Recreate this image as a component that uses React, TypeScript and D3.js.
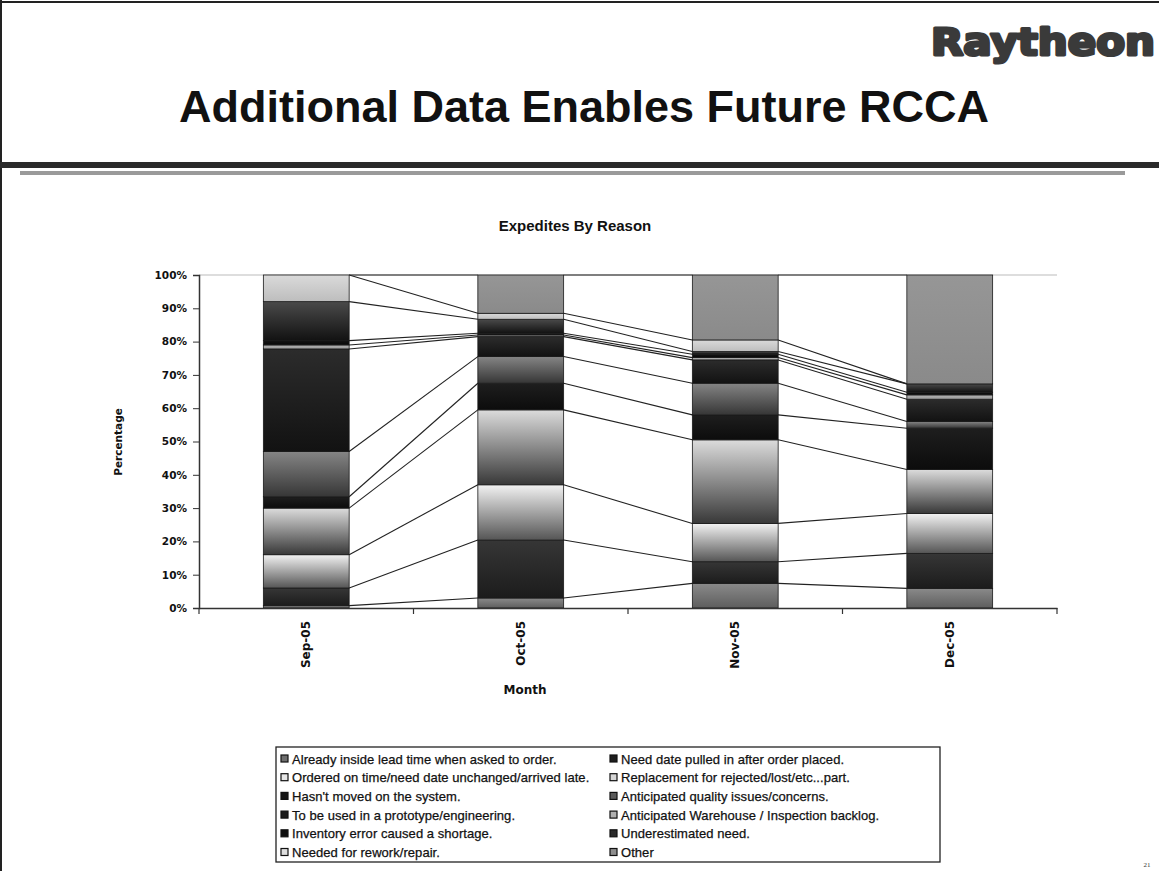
import React, { useEffect, useRef } from "react";
import * as d3 from "d3";

// Months on the category axis
const months = ["Sep-05", "Oct-05", "Nov-05", "Dec-05"];

// Expedite reasons, stacked bottom to top
const reasons = [
  "Already inside lead time when asked to order.",
  "Need date pulled in after order placed.",
  "Ordered on time/need date unchanged/arrived late.",
  "Replacement for rejected/lost/etc...part.",
  "Hasn't moved on the system.",
  "Anticipated quality issues/concerns.",
  "To be used in a prototype/engineering.",
  "Anticipated Warehouse / Inspection backlog.",
  "Inventory error caused a shortage.",
  "Underestimated need.",
  "Needed for rework/repair.",
  "Other",
];

// Share of expedites (%) for each reason, per month
const sep05 = [0.7, 5.3, 10, 14, 3.4, 13.6, 30.8, 1.2, 1.3, 11.7, 8, 0];
const oct05 = [3, 17.4, 16.6, 22.5, 8, 8, 6, 0.5, 0.5, 4.2, 1.8, 11.5];
const nov05 = [7.4, 6.5, 11.5, 25.1, 7.5, 9.5, 7, 0.7, 1, 0.8, 3.5, 19.5];
const dec05 = [5.9, 10.5, 12, 13.2, 12.4, 2, 6.7, 1.3, 0.8, 2.5, 0, 32.7];

const yTickValues = [0, 10, 20, 30, 40, 50, 60, 70, 80, 90, 100];

// Grey gradient fills (top colour, bottom colour) per reason
const fills: [string, string][] = [
  ["#8a8a8a", "#5e5e5e"],
  ["#363636", "#1c1c1c"],
  ["#f2f2f2", "#555555"],
  ["#dcdcdc", "#383838"],
  ["#1e1e1e", "#0c0c0c"],
  ["#858585", "#363636"],
  ["#2c2c2c", "#121212"],
  ["#b4b4b4", "#9a9a9a"],
  ["#151515", "#070707"],
  ["#4a4a4a", "#121212"],
  ["#dadada", "#bdbdbd"],
  ["#969696", "#8a8a8a"],
];

// Swatch colours shown in the legend
const swatches = [
  "#6e6e6e", "#1e1e1e", "#e6e6e6", "#d6d6d6", "#151515", "#5a5a5a",
  "#1c1c1c", "#b0b0b0", "#0e0e0e", "#2a2a2a", "#dedede", "#8e8e8e",
];

const W = 1159;
const H = 871;
const plot = { left: 199, right: 1057, top: 275, bottom: 608 };
const SANS = "'Liberation Sans', Arial, sans-serif";
const WIDE = "'DejaVu Sans', sans-serif";

export default function App() {
  const ref = useRef<SVGSVGElement | null>(null);

  useEffect(() => {
    const svg = d3.select(ref.current);
    svg.selectAll("*").remove();

    const monthValues = [sep05, oct05, nov05, dec05];
    const table = months.map((m, i) => {
      const row: Record<string, number | string> = { month: m };
      reasons.forEach((r, k) => (row[r] = monthValues[i][k]));
      return row;
    });
    const stacked = d3.stack<any>().keys(reasons)(table as any);

    const x = d3
      .scaleBand<string>()
      .domain(months)
      .range([plot.left, plot.right])
      .paddingInner(0.6)
      .paddingOuter(0.3);
    const y = d3.scaleLinear().domain([0, 100]).range([plot.bottom, plot.top]);
    const bw = x.bandwidth();

    // gradients
    const defs = svg.append("defs");
    fills.forEach((f, k) => {
      const g = defs
        .append("linearGradient")
        .attr("id", `grad${k}`)
        .attr("x1", 0)
        .attr("y1", 0)
        .attr("x2", 0)
        .attr("y2", 1);
      g.append("stop").attr("offset", "0%").attr("stop-color", f[0]);
      g.append("stop").attr("offset", "100%").attr("stop-color", f[1]);
    });

    // slide frame
    svg.append("line").attr("x1", 0).attr("x2", W).attr("y1", 2).attr("y2", 2)
      .attr("stroke", "#222").attr("stroke-width", 2);
    svg.append("line").attr("x1", 1).attr("x2", 1).attr("y1", 0).attr("y2", H)
      .attr("stroke", "#222").attr("stroke-width", 2);

    // logo
    svg.append("text")
      .attr("x", 1155).attr("y", 55)
      .attr("text-anchor", "end")
      .attr("font-family", WIDE)
      .attr("font-weight", "bold")
      .attr("font-size", 38)
      .attr("fill", "#3a3a3a")
      .attr("stroke", "#3a3a3a")
      .attr("stroke-width", 3)
      .attr("stroke-linejoin", "round")
      .attr("textLength", 224)
      .attr("lengthAdjust", "spacingAndGlyphs")
      .text("Raytheon");

    // slide title
    svg.append("text")
      .attr("x", 584).attr("y", 122)
      .attr("text-anchor", "middle")
      .attr("font-family", SANS)
      .attr("font-weight", "bold")
      .attr("font-size", 45)
      .attr("fill", "#111")
      .text("Additional Data Enables Future RCCA");

    // rules under title
    svg.append("rect").attr("x", 0).attr("y", 162).attr("width", W).attr("height", 6).attr("fill", "#2a2a2a");
    svg.append("rect").attr("x", 20).attr("y", 171).attr("width", 1105).attr("height", 4).attr("fill", "#9a9a9a");

    // chart title
    svg.append("text")
      .attr("x", 575).attr("y", 231)
      .attr("text-anchor", "middle")
      .attr("font-family", SANS)
      .attr("font-weight", "bold")
      .attr("font-size", 15)
      .attr("fill", "#111")
      .text("Expedites By Reason");

    // plot area top border
    svg.append("line")
      .attr("x1", plot.left).attr("x2", plot.right)
      .attr("y1", plot.top).attr("y2", plot.top)
      .attr("stroke", "#bbb").attr("stroke-width", 1);

    // series lines between bars
    const lineG = svg.append("g").attr("stroke", "#222").attr("stroke-width", 1.1).attr("fill", "none");
    stacked.forEach((s) => {
      for (let i = 0; i < months.length - 1; i++) {
        lineG.append("line")
          .attr("x1", (x(months[i]) as number) + bw)
          .attr("y1", y(s[i][1]))
          .attr("x2", x(months[i + 1]) as number)
          .attr("y2", y(s[i + 1][1]));
      }
    });

    // stacked bars
    const barG = svg.append("g");
    stacked.forEach((s, k) => {
      barG.append("g")
        .selectAll("rect")
        .data(s)
        .join("rect")
        .attr("x", (d: any) => x(d.data.month) as number)
        .attr("width", bw)
        .attr("y", (d: any) => y(d[1]))
        .attr("height", (d: any) => Math.max(0, y(d[0]) - y(d[1])))
        .attr("fill", `url(#grad${k})`)
        .attr("stroke", "#1a1a1a")
        .attr("stroke-width", 0.8);
    });

    // y axis
    const yAxis = d3.axisLeft(y)
      .tickValues(yTickValues)
      .tickFormat((d) => `${d}%`)
      .tickSize(6)
      .tickPadding(6);
    const ya = svg.append("g").attr("transform", `translate(${plot.left},0)`).call(yAxis as any);
    ya.select(".domain").attr("stroke", "#333").attr("stroke-width", 1.5);
    ya.selectAll(".tick line").attr("stroke", "#333");
    ya.selectAll("text")
      .attr("font-family", WIDE)
      .attr("font-weight", "bold")
      .attr("font-size", 10.5)
      .attr("fill", "#111");

    // x axis
    const xAxis = d3.axisBottom(x).tickSize(0).tickPadding(12);
    const xa = svg.append("g").attr("transform", `translate(0,${plot.bottom})`).call(xAxis as any);
    xa.select(".domain").attr("stroke", "#333").attr("stroke-width", 1.5);
    xa.selectAll("text")
      .attr("font-family", WIDE)
      .attr("font-weight", "bold")
      .attr("font-size", 12)
      .attr("fill", "#111")
      .attr("text-anchor", "end")
      .attr("dy", "0.35em")
      .attr("transform", "rotate(-90)")
      .attr("x", -13)
      .attr("y", 0);
    // category boundary ticks
    const step = x.step();
    const bounds = d3.range(months.length + 1).map((i) => plot.left + i * step);
    svg.append("g").selectAll("line").data(bounds).join("line")
      .attr("x1", (d) => d).attr("x2", (d) => d)
      .attr("y1", plot.bottom).attr("y2", plot.bottom + 6)
      .attr("stroke", "#333").attr("stroke-width", 1.2);

    // axis titles
    svg.append("text")
      .attr("transform", `translate(122,442) rotate(-90)`)
      .attr("text-anchor", "middle")
      .attr("font-family", WIDE)
      .attr("font-weight", "bold")
      .attr("font-size", 10.5)
      .attr("fill", "#111")
      .text("Percentage");
    svg.append("text")
      .attr("x", 525).attr("y", 694)
      .attr("text-anchor", "middle")
      .attr("font-family", WIDE)
      .attr("font-weight", "bold")
      .attr("font-size", 12)
      .attr("fill", "#111")
      .text("Month");

    // legend
    const lg = { x: 276, y: 747, w: 664, h: 115 };
    svg.append("rect")
      .attr("x", lg.x).attr("y", lg.y).attr("width", lg.w).attr("height", lg.h)
      .attr("fill", "#fff").attr("stroke", "#222").attr("stroke-width", 1.3);
    const items = svg.append("g").selectAll("g").data(reasons).join("g")
      .attr("transform", (_, i) => {
        const col = i % 2;
        const row = Math.floor(i / 2);
        return `translate(${lg.x + 5 + col * 329},${lg.y + 12 + row * 18.7})`;
      });
    items.append("rect")
      .attr("x", 0).attr("y", -4).attr("width", 7).attr("height", 7)
      .attr("fill", (_, i) => swatches[i])
      .attr("stroke", "#111").attr("stroke-width", 1.2);
    items.append("text")
      .attr("x", 11).attr("y", 4.5)
      .attr("font-family", SANS)
      .attr("font-size", 13)
      .attr("fill", "#111")
      .attr("stroke", "#111")
      .attr("stroke-width", 0.25)
      .attr("letter-spacing", 0.05)
      .text((d) => d);

    // page number
    svg.append("text")
      .attr("x", 1147).attr("y", 867)
      .attr("text-anchor", "middle")
      .attr("font-family", "'Liberation Serif', serif")
      .attr("font-size", 7)
      .attr("fill", "#333")
      .text("21");
  }, []);

  return (
    <svg
      ref={ref}
      width={W}
      height={H}
      style={{ position: "absolute", left: 0, top: 0, background: "#fff" }}
    />
  );
}
